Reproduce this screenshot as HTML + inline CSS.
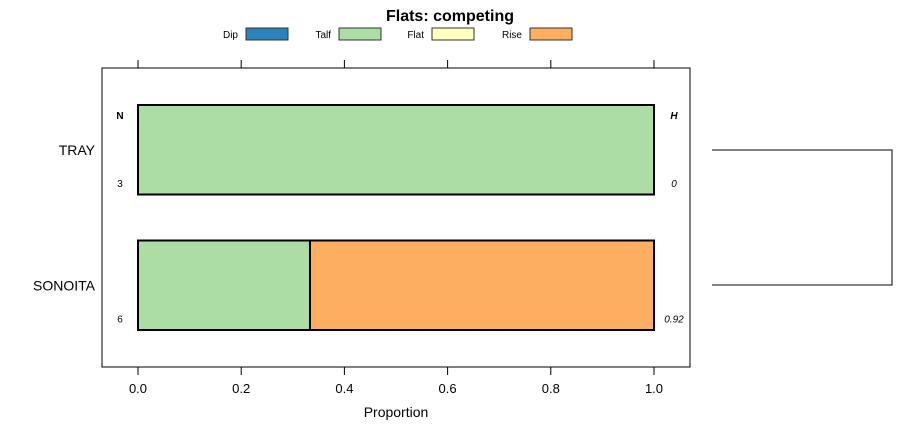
<!DOCTYPE html>
<html><head><meta charset="utf-8"><style>
body{margin:0;background:#fff;font-family:"Liberation Sans",sans-serif}
</style></head><body>
<svg id="c" width="900" height="440" xmlns="http://www.w3.org/2000/svg" font-family="Liberation Sans, sans-serif">
<text x="450" y="21" text-anchor="middle" font-size="16" font-weight="bold">Flats: competing</text>
<g id="legend"></g>
<rect x="102" y="68" width="588" height="299" fill="none" stroke="#000"/>
<g id="axes"></g>
<g id="bars"></g>
<text x="396" y="417" text-anchor="middle" font-size="14">Proportion</text>
<text x="120" y="119" text-anchor="middle" font-size="10" font-weight="bold">N</text>
<text x="674" y="119" text-anchor="middle" font-size="10" font-weight="bold" font-style="italic">H</text>
<path d="M712 150 H892 V285 H712" fill="none" stroke="#000"/>
</svg>
<script>
const categories=["TRAY","SONOITA"];
const seriesNames=["Dip","Talf","Flat","Rise"];
const colors=["#2b83ba","#abdda4","#ffffbf","#fdae61"];
const dip=[0,0];
const talf=[1,0.3333];
const flat=[0,0];
const rise=[0,0.6667];
const nVals=["3","6"];
const hVals=["0","0.92"];
const ticks=[0,0.2,0.4,0.6,0.8,1.0];
const tickLabels=["0.0","0.2","0.4","0.6","0.8","1.0"];
const NS="http://www.w3.org/2000/svg";
const x=v=>138+v*516;
const yTop=i=>105+i*135.5;
const bh=89.5;
function mk(t,a,p){const e=document.createElementNS(NS,t);for(const k in a)e.setAttribute(k,a[k]);p.appendChild(e);return e;}
const ax=document.getElementById('axes');
ticks.forEach((t,i)=>{
 let l=mk('line',{x1:x(t),x2:x(t),y1:367,y2:375,stroke:'#000'},ax);
 
 
 let l2=mk('line',{x1:x(t),x2:x(t),y1:60,y2:68,stroke:'#000'},ax);
 
 
 let tx=mk('text',{x:x(t),y:393,'text-anchor':'middle','font-size':13},ax);tx.textContent=tickLabels[i];
 
 
});
const bg=document.getElementById('bars');
const series=[dip,talf,flat,rise];
categories.forEach((c,i)=>{
 let cum=0;const y0=yTop(i);
 series.forEach((s,j)=>{
  if(s[i]>0){let r=mk('rect',{x:x(cum),y:y0,width:x(cum+s[i])-x(cum),height:bh,fill:colors[j],stroke:'#000','stroke-width':2},bg);
  
  }
  cum+=s[i];
 });
 let lb=mk('text',{x:95,y:y0+bh/2+5,'text-anchor':'end','font-size':14},bg);lb.textContent=c;
 
 
 let n=mk('text',{x:120,y:y0+82,'text-anchor':'middle','font-size':10},bg);n.textContent=nVals[i];
 
 
 let h=mk('text',{x:674,y:y0+82,'text-anchor':'middle','font-size':10,'font-style':'italic'},bg);h.textContent=hVals[i];
 
 
});
const lg=document.getElementById('legend');
const lx=[246,339,432,530];
seriesNames.forEach((s,i)=>{
 let r=mk('rect',{x:lx[i],y:28,width:42,height:12,fill:colors[i],stroke:'#333'},lg);
 
 
 let t=mk('text',{x:lx[i]-8,y:38,'text-anchor':'end','font-size':10},lg);t.textContent=s;
 
 
});
</script>
</body></html>
